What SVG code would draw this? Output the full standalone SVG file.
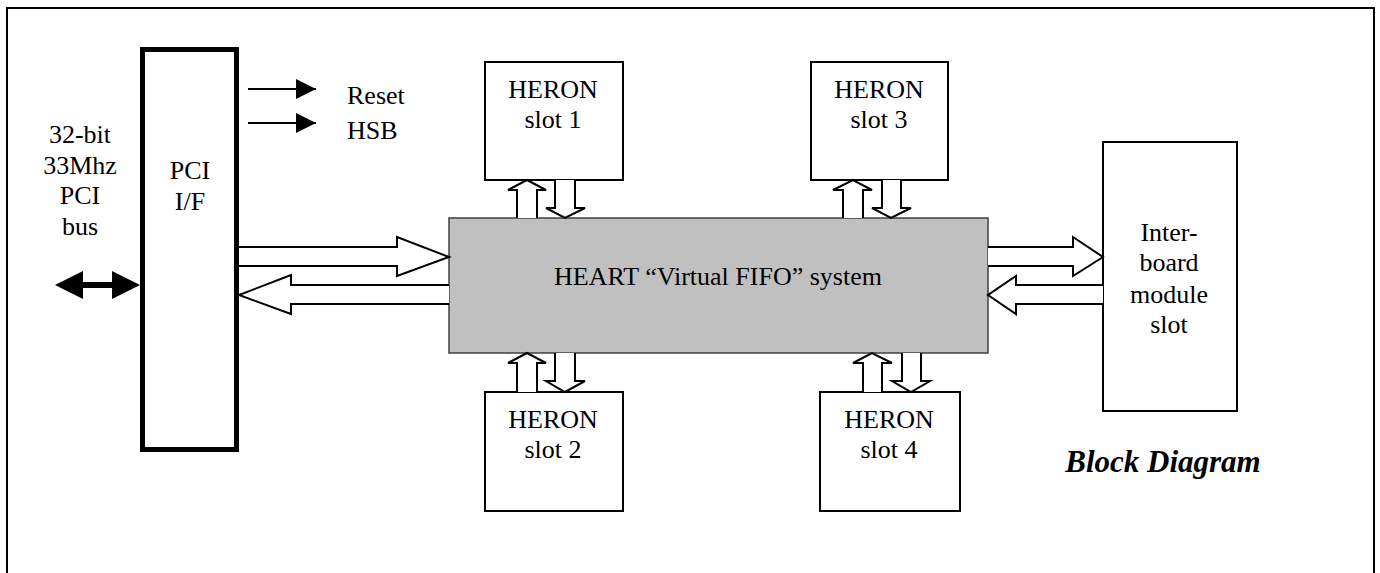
<svg xmlns="http://www.w3.org/2000/svg" width="1380" height="573" viewBox="0 0 1380 573">
<style>
  text { font-family: "Liberation Serif", "Times New Roman", serif; font-size: 26px; fill: #000; }
  .c { text-anchor: middle; }
  .l { text-anchor: start; }
  .title { font-weight: bold; font-style: italic; font-size: 31px; text-anchor: middle; }
  .box { fill: #fff; stroke: #000; stroke-width: 2; }
  .blk { fill: #fff; stroke: #000; stroke-width: 2; stroke-linejoin: miter; }
  .thin { stroke: #000; stroke-width: 2; fill: none; }
</style>
<defs>
  <marker id="ah" viewBox="0 0 20 20" refX="20" refY="10" markerWidth="20" markerHeight="20" markerUnits="userSpaceOnUse" orient="auto">
    <path d="M0,0 L20,10 L0,20 Z" fill="#000"/>
  </marker>
</defs>
<rect x="0" y="0" width="1380" height="573" fill="#fff"/>
<rect id="frame" x="7" y="8" width="1367" height="600" fill="none" stroke="#000" stroke-width="2"/>

<g id="pci-bus-label">
  <text class="c" x="80" y="143">32-bit</text>
  <text class="c" x="80" y="174">33Mhz</text>
  <text class="c" x="80" y="204">PCI</text>
  <text class="c" x="80" y="235">bus</text>
</g>

<g id="pci-if">
  <rect x="142.5" y="49.5" width="94" height="400" fill="#fff" stroke="#000" stroke-width="5"/>
  <text class="c" x="190" y="179">PCI</text>
  <text class="c" x="190" y="210">I/F</text>
</g>

<g id="signals">
  <text class="l" x="347" y="104">Reset</text>
  <text class="l" x="347" y="139">HSB</text>
</g>

<g id="heart">
  <rect x="449" y="218" width="539" height="135" fill="#c0c0c0" stroke="#404040" stroke-width="1.5"/>
  <text class="c" x="718" y="285">HEART “Virtual FIFO” system</text>
</g>

<g id="heron1">
  <rect class="box" x="485" y="62" width="138" height="118"/>
  <text class="c" x="553" y="98">HERON</text>
  <text class="c" x="553" y="128">slot 1</text>
</g>
<g id="heron3">
  <rect class="box" x="811" y="62" width="137" height="118"/>
  <text class="c" x="879" y="98">HERON</text>
  <text class="c" x="879" y="128">slot 3</text>
</g>
<g id="heron2">
  <rect class="box" x="485" y="392" width="138" height="119"/>
  <text class="c" x="553" y="428">HERON</text>
  <text class="c" x="553" y="458">slot 2</text>
</g>
<g id="heron4">
  <rect class="box" x="820" y="392" width="140" height="119"/>
  <text class="c" x="889" y="428">HERON</text>
  <text class="c" x="889" y="458">slot 4</text>
</g>

<g id="interboard">
  <rect class="box" x="1103" y="142" width="134" height="269"/>
  <text class="c" x="1169" y="241">Inter-</text>
  <text class="c" x="1169" y="271">board</text>
  <text class="c" x="1169" y="303">module</text>
  <text class="c" x="1169" y="333">slot</text>
</g>

<g id="title">
  <text class="title" x="1163" y="472">Block Diagram</text>
</g>

<g id="connectors">
  <line x1="80" y1="285" x2="115" y2="285" stroke="#000" stroke-width="6"/>
  <path d="M55,285 L83,271 L83,299 Z" fill="#000"/>
  <path d="M140,285 L112,271 L112,299 Z" fill="#000"/>

  <line class="thin" x1="248" y1="89" x2="316" y2="89" marker-end="url(#ah)"/>
  <line class="thin" x1="248" y1="123" x2="316" y2="123" marker-end="url(#ah)"/>

  <path class="blk" d="M239,247 L397,247 L397,237 L449,257 L397,276 L397,266 L239,266"/>
  <path class="blk" d="M449,285 L291,285 L291,275 L239,295 L291,314 L291,304 L449,304"/>

  <path class="blk" d="M988,247 L1073,247 L1073,237 L1103,257 L1073,276 L1073,266 L988,266"/>
  <path class="blk" d="M1103,285 L1016,285 L1016,276 L988,295 L1016,314 L1016,304 L1103,304"/>

  <path class="blk" d="M517,218 L517,190 L508,190 L527,180 L546,190 L537,190 L537,218"/>
  <path class="blk" d="M555,180 L555,208 L546,208 L565,218 L585,208 L575,208 L575,180"/>
  <path class="blk" d="M843,218 L843,190 L833,190 L853,180 L872,190 L863,190 L863,218"/>
  <path class="blk" d="M882,180 L882,208 L872,208 L891,218 L911,208 L901,208 L901,180"/>
  <path class="blk" d="M517,392 L517,363 L508,363 L527,353 L546,363 L537,363 L537,392"/>
  <path class="blk" d="M555,353 L555,381 L546,381 L565,392 L585,381 L575,381 L575,353"/>
  <path class="blk" d="M863,392 L863,363 L853,363 L872,353 L892,363 L882,363 L882,392"/>
  <path class="blk" d="M902,353 L902,381 L892,381 L911,392 L930,381 L921,381 L921,353"/>
</g>
</svg>
